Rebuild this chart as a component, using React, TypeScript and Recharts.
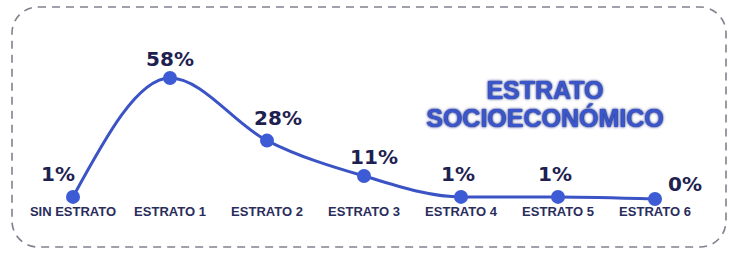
import { LineChart, Line, XAxis, YAxis } from "recharts";

const categories = [
  "SIN ESTRATO",
  "ESTRATO 1",
  "ESTRATO 2",
  "ESTRATO 3",
  "ESTRATO 4",
  "ESTRATO 5",
  "ESTRATO 6",
];
const shares = [1, 58, 28, 11, 1, 1, 0];

const data = categories.map((name, i) => ({ name, value: shares[i] }));

// nudges so the value labels sit clear of the line, like the original
const labelDx = [-15, 0, 11, 10, -3, -3, 30];
const labelDy = [-16, -12, -16, -12, -16, -16, -8];

function ValueLabel(props: any) {
  const { x, y, value, index } = props;
  if (x == null || y == null) return null;
  return (
    <text
      x={x + labelDx[index]}
      y={y + labelDy[index]}
      textAnchor="middle"
      fill="#1e2150"
      fontSize={20}
      fontWeight="bold"
      fontFamily="DejaVu Sans, sans-serif"
    >
      {value}%
    </text>
  );
}

export default function App() {
  return (
    <div
      style={{
        position: "absolute",
        left: 0,
        top: 0,
        width: 729,
        height: 254,
        background: "#fff",
        overflow: "hidden",
      }}
    >
      <svg width={729} height={254} style={{ position: "absolute", left: 0, top: 0 }}>
        <rect
          x={12}
          y={7}
          width={714}
          height={240}
          rx={26}
          fill="none"
          stroke="#80828e"
          strokeWidth={1.6}
          strokeDasharray="8 6"
        />
      </svg>

      <div
        style={{
          position: "absolute",
          left: 395,
          top: 76,
          width: 300,
          textAlign: "center",
          fontFamily: "Liberation Sans, Arial, sans-serif",
          fontWeight: "bold",
          fontSize: 25,
          lineHeight: "28px",
          color: "#3b56c8",
          textShadow: "0 0 3px #1d2a86, 0 0 1px #1d2a86",
        }}
      >
        ESTRATO
        <br />
        SOCIOECONÓMICO
      </div>

      <div style={{ position: "absolute", left: 0, top: 0 }}>
        <LineChart
          width={729}
          height={254}
          data={data}
          margin={{ top: 78, right: 74, bottom: 25, left: 73 }}
        >
          <XAxis
            dataKey="name"
            axisLine={false}
            tickLine={false}
            interval={0}
            height={30}
            tick={{
              fill: "#2a2d5c",
              fontSize: 13,
              fontWeight: "bold",
              fontFamily: "Liberation Sans, Arial, sans-serif",
            }}
          />
          <YAxis hide domain={[0, 58]} />
          <Line
            type="monotone"
            dataKey="value"
            stroke="#3b53c4"
            strokeWidth={3}
            dot={{ r: 7, fill: "#3d5bd4", stroke: "none" }}
            activeDot={false}
            label={<ValueLabel />}
            isAnimationActive={false}
          />
        </LineChart>
      </div>
    </div>
  );
}
